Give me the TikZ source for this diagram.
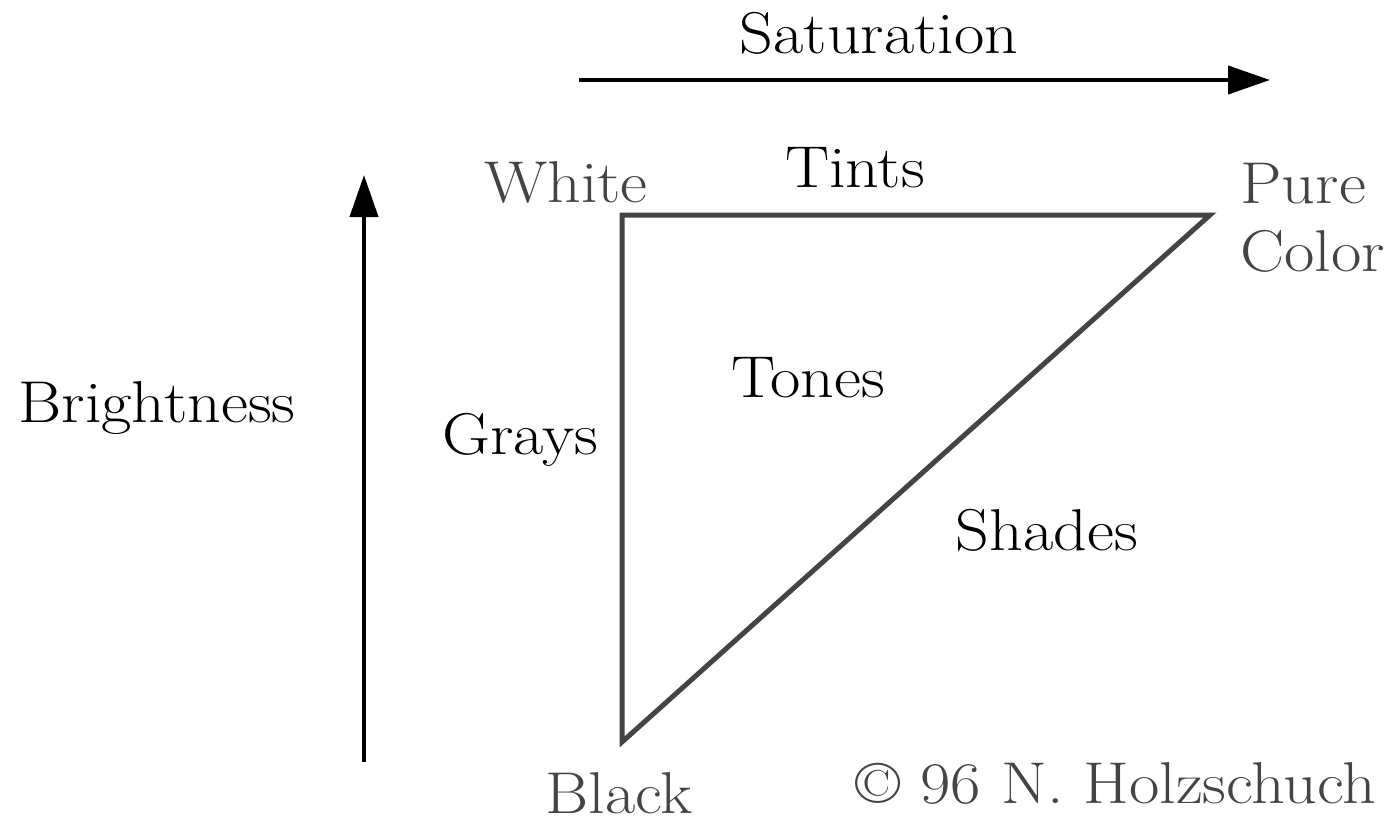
\documentclass[tikz,border=0pt]{standalone}
\usepackage{fontspec}
\setmainfont{Latin Modern Roman}[FakeStretch=1.12]
\usetikzlibrary{arrows.meta, positioning}

\definecolor{labelgray}{HTML}{444444}

\begin{document}
\begin{tikzpicture}[
    x=0.5pt, y=-0.5pt,
    axis/.style={draw, line width=2pt, -{Triangle[length=21pt, width=14pt]}},
    edge/.style={draw=labelgray, line width=2.5pt, line join=miter},
    word/.style={font=\fontsize{29.5}{34}\selectfont, inner sep=0pt},
    corner/.style={word, text=labelgray}
]
\useasboundingbox (0,0) rectangle (1397,824);

% axes
\coordinate (satstart) at (579,80);
\coordinate (satend) at (1270,80);
\coordinate (brstart) at (364,762);
\coordinate (brend) at (364,175);
\path [axis] (satstart) -- (satend);
\path [axis] (brstart) -- (brend);
\node [word] (saturation) at (879,33) {Saturation};
\node [word] (brightness) at (157,408) {Brightness};

% triangle
\coordinate (white) at (622,215);
\coordinate (pure) at (1210,215);
\coordinate (black) at (622,742);
\path [edge] (white) -- (pure) -- (black) -- cycle;

\node [corner] (whitelabel) at (566,182) {White};
\node [corner, align=left, anchor=west] (purelabel) at (1240,218) {Pure\\Color};
\node [corner] (blacklabel) at (619,793) {Black};
\node [corner] (copyright) at (1116,783) {\textcopyright{} 96 N. Holzschuch};

\node [word] (tints) at (855,168) {Tints};
\node [word] (tones) at (808,378) {Tones};
\node [word] (grays) at (520,440) {Grays};
\node [word] (shades) at (1047,530) {Shades};

\end{tikzpicture}
\end{document}
